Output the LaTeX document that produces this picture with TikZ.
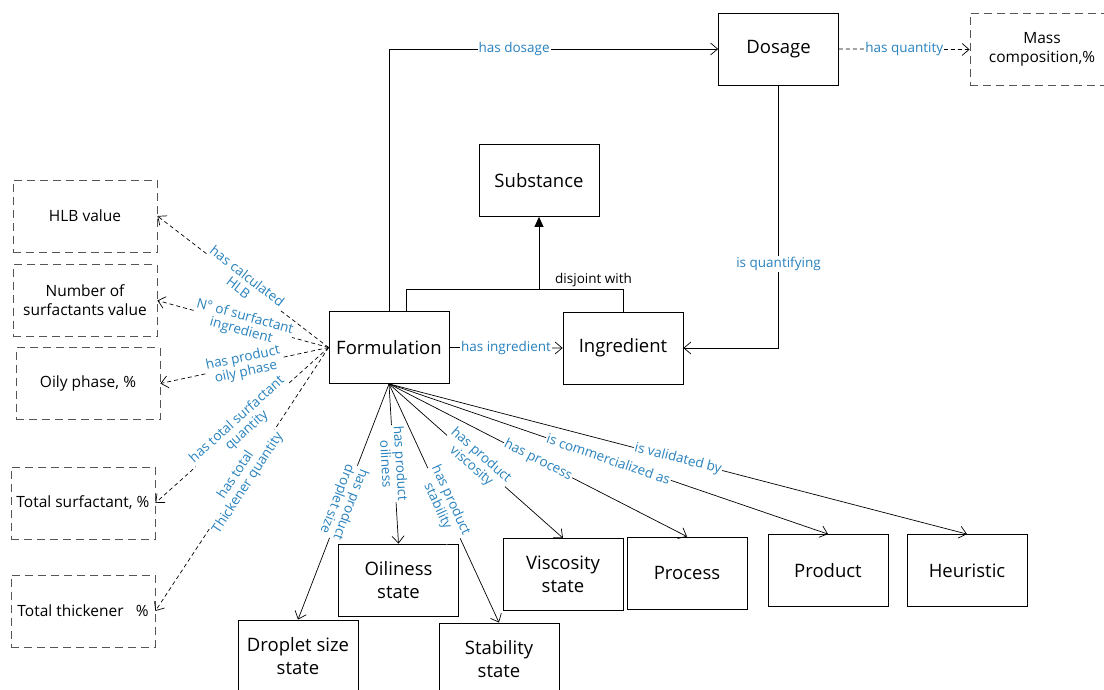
\documentclass[tikz,border=0pt]{standalone}
\usepackage{fontspec}
\setmainfont{Open Sans}
\usepackage{tikz}
\usetikzlibrary{arrows.meta}

\definecolor{labelblue}{RGB}{40,130,190}
\definecolor{dashgray}{RGB}{85,85,85}

\tikzset{
	cls/.style={draw, line width=0.8pt, minimum width=120pt, minimum height=72pt,
		align=center, font=\fontsize{18.5}{23}\selectfont},
	datbox/.style={draw=dashgray, line width=0.8pt, dash pattern=on 8pt off 5pt,
		minimum width=144pt, minimum height=72pt, align=center,
		font=\fontsize{15.5}{19}\selectfont},
	lbl/.style={font=\fontsize{13.5}{14.5}\selectfont, text=labelblue, fill=white,
		inner sep=1pt, align=center},
	objprop/.style={line width=0.7pt, -{Straight Barb[length=7pt,width=12pt]}},
	datprop/.style={objprop, dash pattern=on 4pt off 3pt},
}

\begin{document}
\begin{tikzpicture}[x=1pt,y=-1pt]
		\useasboundingbox (0,0) rectangle (1104,690);
%		\draw[help lines] (0,0) grid[step=50] (1104,690);
		\fill[white] (0,0) rectangle (1104,690);

		% classes
		\node[cls] (dos) at (778.5,49) {Dosage};
		\node[cls] (subst) at (539,180.5) {Substance};
		\node[cls] (form) at (389,347.5) {Formulation};
		\node[cls] (ingr) at (623,348) {Ingredient};
		\node[cls] (drop) at (298,656) {Droplet size\\state};
		\node[cls] (oil) at (398.5,580) {Oiliness\\state};
		\node[cls] (stab) at (499,659) {Stability\\state};
		\node[cls] (visc) at (563,574.5) {Viscosity\\state};
		\node[cls] (proc) at (687,573) {Process};
		\node[cls] (prod) at (828,570.5) {Product};
		\node[cls] (heur) at (967,570.5) {Heuristic};

		% data values
		\node[datbox] (mass) at (1042,49.5) {Mass\\composition,\%};
		\node[datbox] (hlb) at (85,216) {HLB value};
		\node[datbox] (nsurf) at (85,300.5) {Number of\\surfactants value};
		\node[datbox] (oily) at (88,383.5) {Oily phase, \%};
		\node[datbox] (tsurf) at (83,503) {Total surfactant, \%};
		\node[datbox] (tthick) at (83,611) {Total thickener \ \ \%};

		\path ([xshift=17pt]form.north) coordinate (fdj);
		\path (subst.south) ++(0,72) coordinate (djoin);

		% subclass / disjoint
		\draw[line width=0.7pt] (fdj) |- (djoin) -| (ingr.north);
		\draw[line width=0.7pt,-{Triangle[length=10pt,width=9pt]}] (djoin) -- (subst.south);
		\node[font=\fontsize{13.5}{15}\selectfont, above right, inner sep=2pt] at ([xshift=14pt]djoin) {disjoint with};

		% object properties
		\draw[objprop] (form.north) |- (dos.west)
			node[lbl, pos=0.69] {has dosage};
		\draw[objprop] (dos.south) |- (ingr.east)
			node[lbl, pos=0.34] {is quantifying};
		\draw[objprop] (form.east) -- (ingr.west)
			node[lbl, midway] {has ingredient};
		\draw[objprop] (form.south) -- (drop.north)
			node[lbl, midway, sloped, allow upside down] {has product\\droplet size};
		\draw[objprop] (form.south) -- (oil.north)
			node[lbl, midway, sloped] {has product\\oiliness};
		\draw[objprop] (form.south) -- (stab.north)
			node[lbl, midway, sloped] {has product\\stability};
		\draw[objprop] (form.south) -- (visc.north)
			node[lbl, midway, sloped] {has product\\viscosity};
		\draw[objprop] (form.south) -- (proc.north)
			node[lbl, midway, sloped] {has process};
		\draw[objprop] (form.south) -- (prod.north)
			node[lbl, midway, sloped] {is commercialized as};
		\draw[objprop] (form.south) -- (heur.north)
			node[lbl, midway, sloped] {is validated by};

		% data properties
		\draw[datprop] (dos.east) -- (mass.west)
			node[lbl, midway] {has quantity};
		\draw[datprop] (form.west) -- (hlb.east)
			node[lbl, midway, sloped] {has calculated\\HLB};
		\draw[datprop] (form.west) -- (nsurf.east)
			node[lbl, midway, sloped] {N° of surfactant\\ingredient};
		\draw[datprop] (form.west) -- (oily.east)
			node[lbl, midway, sloped] {has product\\oily phase};
		\draw[datprop] (form.west) -- (tsurf.east)
			node[lbl, midway, sloped] {has total surfactant\\quantity};
		\draw[datprop] (form.west) -- (tthick.east)
			node[lbl, midway, sloped] {has total\\Thickener quantity};
	\end{tikzpicture}
\end{document}
